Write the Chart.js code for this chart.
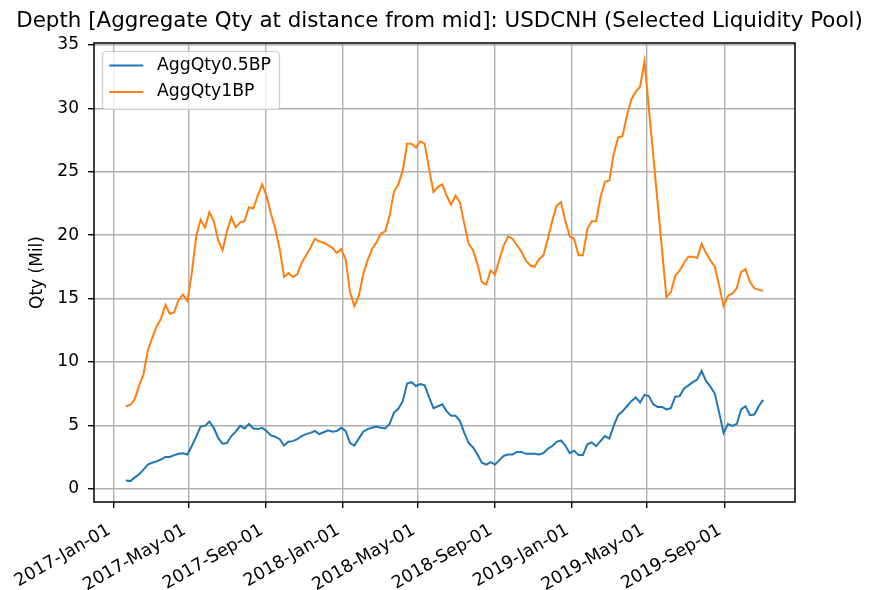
<!DOCTYPE html>
<html>
<head>
<meta charset="utf-8">
<title>USDCNH depth</title>
<script src="https://cdn.jsdelivr.net/npm/chart.js@4.4.0/dist/chart.umd.min.js"></script>
<style>
  html, body { margin: 0; padding: 0; background: #fff; }
  #wrap { width: 879px; height: 590px; }
</style>
</head>
<body>
<div id="wrap"><canvas id="depthChart" width="879" height="590"></canvas></div>
<script>
// weekly samples, first one on this date
const firstWeek = "2017-01-21";

const qty05bp = [
  0.65, 0.6, 0.87, 1.13, 1.5, 1.9, 2.05, 2.15, 2.3, 2.5,
  2.5, 2.65, 2.75, 2.8, 2.7, 3.37, 4.1, 4.9, 4.95, 5.3,
  4.8, 4.0, 3.55, 3.6, 4.15, 4.5, 4.95, 4.75, 5.1, 4.75,
  4.7, 4.8, 4.55, 4.2, 4.1, 3.9, 3.4, 3.7, 3.75, 3.9,
  4.15, 4.3, 4.4, 4.55, 4.3, 4.45, 4.6, 4.5, 4.55, 4.8,
  4.55, 3.6, 3.4, 3.95, 4.5, 4.7, 4.8, 4.9, 4.8, 4.75,
  5.1, 6.0, 6.3, 6.9, 8.3, 8.4, 8.1, 8.25, 8.15, 7.2,
  6.35, 6.5, 6.65, 6.1, 5.75, 5.75, 5.35, 4.4, 3.6, 3.25,
  2.7, 2.05, 1.9, 2.1, 1.9, 2.25, 2.6, 2.7, 2.7, 2.9,
  2.9, 2.75, 2.75, 2.75, 2.7, 2.8, 3.15, 3.35, 3.7, 3.8,
  3.4, 2.8, 3.0, 2.65, 2.65, 3.5, 3.65, 3.35, 3.75, 4.15,
  3.95, 4.95, 5.8, 6.1, 6.5, 6.9, 7.2, 6.8, 7.4, 7.3,
  6.65, 6.45, 6.45, 6.25, 6.35, 7.25, 7.3, 7.9, 8.15, 8.4,
  8.6, 9.3, 8.5, 8.05, 7.5, 6.0, 4.4, 5.1, 4.95, 5.1,
  6.25, 6.5, 5.8, 5.85, 6.5, 7.0
];

// null = no value that week, the line just spans the gap
const qty1bp = [
  6.5, 6.6, 7.05, 8.1, 9.0, 10.9, 11.9, 12.8, 13.4, 14.5,
  13.8, 13.9, 14.9, 15.3, 14.8, 17.0, 19.9, 21.2, 20.6, 21.8,
  21.1, 19.6, 18.8, 20.3, 21.4, 20.6, 21.0, 21.1, 22.2, 22.1,
  23.1, 24.0, 23.1, 21.7, 20.5, 18.9, 16.7, 17.0, 16.7, 16.9,
  17.8, 18.4, 19.0, 19.7, 19.5, 19.4, 19.2, 19.0, 18.6, 18.9,
  18.1, 15.5, 14.4, 15.2, 16.9, 18.0, 18.9, 19.4, 20.1, 20.3,
  21.5, 23.4, 24.0, 25.1, 27.2, 27.2, 26.9, 27.4, 27.2, 25.2,
  23.4, 23.8, 24.0, 23.1, 22.4, 23.1, 22.6, 20.9, 19.3, 18.8,
  17.7, 16.3, 16.1, 17.2, 16.9, 18.1, 19.2, 19.9, 19.7, 19.2,
  18.7, 18.0, 17.6, 17.5, 18.1, 18.4, 19.7, 21.1, 22.3, 22.6,
  21.1, 19.9, 19.7, 18.4, 18.4, 20.5, 21.1, 21.1, 23.0, 24.2,
  24.3, 26.4, 27.7, 27.8, 29.4, 30.7, 31.3, 31.7, 33.7, null,
  null, null, null, 15.1, 15.5, 16.8, 17.2, 17.8, 18.3, 18.3,
  18.2, 19.3, 18.6, 18.0, 17.5, 16.0, 14.4, 15.2, 15.4, 15.8,
  17.1, 17.3, 16.3, 15.8, 15.7, 15.6
];

const tickDates = ["2017-01-01", "2017-05-01", "2017-09-01", "2018-01-01", "2018-05-01",
                   "2018-09-01", "2019-01-01", "2019-05-01", "2019-09-01"];
const tickLabels = ["2017-Jan-01", "2017-May-01", "2017-Sep-01", "2018-Jan-01", "2018-May-01",
                    "2018-Sep-01", "2019-Jan-01", "2019-May-01", "2019-Sep-01"];
const yTicks = [0, 5, 10, 15, 20, 25, 30, 35];

const FONT = "DejaVu Sans";
Chart.defaults.font.family = FONT;
Chart.defaults.color = "#000";

// x axis = days since 2017-01-01
const origin = Date.parse("2017-01-01T00:00:00Z");
function toDay(s) {
    return (Date.parse(s + "T00:00:00Z") - origin) / 86400000;
}
const day0 = toDay(firstWeek);
const weekDays = qty1bp.map((_, i) => day0 + 7 * i);
const tickDays = tickDates.map(toDay);

// matplotlib style 5% margins
const span = weekDays[weekDays.length - 1] - weekDays[0];
const xMin = weekDays[0] - 0.05 * span;
const xMax = weekDays[weekDays.length - 1] + 0.05 * span;

function points(values) {
    return values.map((v, i) => ({ x: weekDays[i], y: v }));
}

// black frame round the plot, like the axes spines
const framePlugin = {
    id: "frame",
    afterDatasetsDraw(chart) {
        const { ctx, chartArea: a } = chart;
        ctx.save();
        ctx.strokeStyle = "#000";
        ctx.lineWidth = 1.5;
        ctx.strokeRect(a.left, a.top, a.right - a.left, a.bottom - a.top);
        ctx.restore();
    }
};

// legend box drawn inside the plot (upper left)
const boxLegend = {
    id: "boxLegend",
    afterDraw(chart) {
        const { ctx, chartArea: a } = chart;
        const size = 17.3;
        const left = a.left + 8.5, top = a.top + 8.5;
        ctx.save();
        ctx.font = size + "px '" + FONT + "'";
        const sets = chart.data.datasets;
        const textW = Math.max(...sets.map(d => ctx.measureText(d.label).width));
        const w = 6.8 + 34 + 13.6 + textW + 8.5;
        const h = 58;
        ctx.beginPath();
        ctx.roundRect(left, top, w, h, 4);
        ctx.fillStyle = "rgba(255,255,255,0.8)";
        ctx.fill();
        ctx.strokeStyle = "#cccccc";
        ctx.lineWidth = 1.2;
        ctx.stroke();
        sets.forEach((d, i) => {
            const y = top + 14 + i * 26.5;
            ctx.beginPath();
            ctx.moveTo(left + 6.8, y);
            ctx.lineTo(left + 6.8 + 34, y);
            ctx.strokeStyle = d.borderColor;
            ctx.lineWidth = 2;
            ctx.stroke();
            ctx.fillStyle = "#000";
            ctx.textBaseline = "middle";
            ctx.fillText(d.label, left + 6.8 + 34 + 13.6, y);
        });
        ctx.restore();
    }
};

const gridStyle = {
    color: "#b0b0b0",
    lineWidth: 1.4,
    drawTicks: true,
    tickLength: 6,
    tickWidth: 1.4,
    tickColor: "#000"
};

new Chart(document.getElementById("depthChart"), {
    type: "line",
    data: {
        datasets: [{
            label: "AggQty0.5BP",
            data: points(qty05bp),
            borderColor: "#1f77b4",
            borderWidth: 2,
            pointRadius: 0,
            fill: false,
            tension: 0
        }, {
            label: "AggQty1BP",
            data: points(qty1bp),
            borderColor: "#ff7f0e",
            borderWidth: 2,
            pointRadius: 0,
            fill: false,
            tension: 0,
            spanGaps: true
        }]
    },
    options: {
        responsive: false,
        animation: false,
        devicePixelRatio: 1,
        layout: { padding: 0 },
        plugins: {
            legend: { display: false },
            tooltip: { enabled: false },
            title: {
                display: true,
                text: "Depth [Aggregate Qty at distance from mid]: USDCNH (Selected Liquidity Pool)",
                font: { size: 21.4, weight: "normal" },
                color: "#000",
                padding: { top: 8.8, bottom: 8.5 }
            }
        },
        scales: {
            x: {
                type: "linear",
                position: "bottom",
                min: xMin,
                max: xMax,
                afterBuildTicks: axis => { axis.ticks = tickDays.map(v => ({ value: v })); },
                afterFit: axis => { axis.height = 88; },
                ticks: {
                    autoSkip: false,
                    minRotation: 30,
                    maxRotation: 30,
                    padding: 12,
                    labelOffset: -4,
                    font: { size: 17.5 },
                    callback: (value, index) => tickLabels[index]
                },
                grid: gridStyle,
                border: { display: false }
            },
            y: {
                type: "linear",
                position: "left",
                min: -1.05,
                max: 35.15,
                afterBuildTicks: axis => { axis.ticks = yTicks.map(v => ({ value: v })); },
                afterFit: axis => { axis.width = 94; },
                ticks: {
                    padding: 9,
                    font: { size: 17 }
                },
                title: {
                    display: true,
                    text: "Qty (Mil)",
                    font: { size: 17 },
                    padding: { top: 27, bottom: 0 }
                },
                grid: gridStyle,
                border: { display: false }
            },
            // empty axis on the right, only keeps room so the title stays centred
            pad: {
                type: "linear",
                position: "right",
                afterFit: axis => { axis.width = 84; },
                ticks: { display: false },
                grid: { display: false },
                border: { display: false }
            }
        }
    },
    plugins: [framePlugin, boxLegend]
});
</script>
</body>
</html>
